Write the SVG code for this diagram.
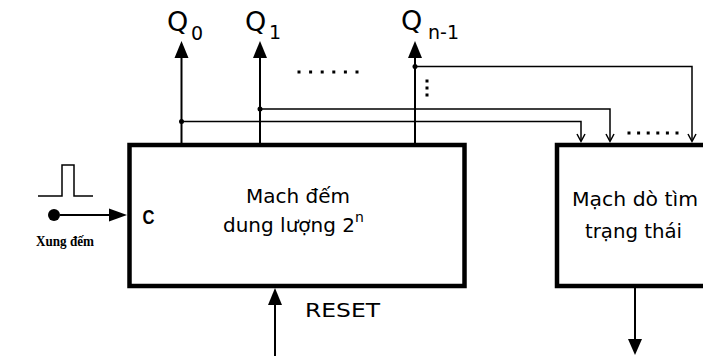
<svg xmlns="http://www.w3.org/2000/svg" width="703" height="356" viewBox="0 0 703 356">
<style>
.box{fill:#fff;stroke:#000;stroke-width:4.5}
.w{fill:none;stroke:#000;stroke-width:2}
.t{fill:none;stroke:#000;stroke-width:1.5}
.ah{fill:#000}
.body{font-family:"DejaVu Sans",sans-serif;font-size:20px;fill:#000}
.q{font-family:"DejaVu Sans",sans-serif;font-size:27px;fill:#000}
.sub{font-family:"DejaVu Sans",sans-serif;font-size:19px;fill:#000}
</style>
<rect width="703" height="356" fill="#fff"/>
<g id="counter">
<rect class="box" x="129.5" y="145" width="335" height="141"/>
<text class="body" x="298" y="203" text-anchor="middle">Mach đếm</text>
<text class="body" x="223" y="232">dung lượng 2<tspan font-size="14" dy="-10">n</tspan></text>
<text x="142.5" y="223.5" font-family="Liberation Sans, sans-serif" font-weight="bold" font-size="20" textLength="12" lengthAdjust="spacingAndGlyphs">C</text>
</g>
<g id="detector">
<rect class="box" x="557" y="145" width="160" height="141"/>
<text class="body" x="572" y="206" textLength="126" lengthAdjust="spacingAndGlyphs">Mạch dò tìm</text>
<text class="body" x="585" y="238" textLength="97" lengthAdjust="spacingAndGlyphs">trạng thái</text>
</g>
<g id="input">
<polyline class="t" points="38,196 62,196 62,165 74,165 74,196 93,196"/>
<circle cx="54" cy="215" r="6"/>
<text x="36" y="245.5" font-family="Liberation Serif, serif" font-weight="bold" font-size="15.5" textLength="58" lengthAdjust="spacingAndGlyphs">Xung đếm</text>
</g>
<g id="labels">
<text class="q" x="167" y="31">Q</text><text class="sub" x="191" y="40">0</text>
<text class="q" x="245" y="31">Q</text><text class="sub" x="269" y="38.5">1</text>
<text class="q" x="401" y="30">Q</text><text class="sub" x="428" y="39">n-1</text>
<text class="body" x="305" y="316.5" textLength="75" lengthAdjust="spacingAndGlyphs">RESET</text>
</g>
<g id="connectors">
<line class="w" x1="181.5" y1="56" x2="181.5" y2="145"/>
<line class="w" x1="260" y1="56" x2="260" y2="145"/>
<line class="w" x1="415" y1="56" x2="415" y2="145"/>
<polygon class="ah" points="181.5,41 174.5,58 188.5,58"/>
<polygon class="ah" points="260,41 253,58 267,58"/>
<polygon class="ah" points="415,41 408,58 422,58"/>
<polyline class="t" points="181.5,121.5 581,121.5 581,141"/>
<polyline class="t" points="260,109 610,109 610,141"/>
<polyline class="t" points="415,66.5 692,66.5 692,141"/>
<polyline class="t" points="577,134 581,141.5 585,134"/>
<polyline class="t" points="606,134 610,141.5 614,134"/>
<polyline class="t" points="688,134 692,141.5 696,134"/>
<circle cx="181.5" cy="121.5" r="2.5"/>
<circle cx="260" cy="109" r="2.5"/>
<circle cx="415" cy="66.5" r="2.5"/>
<line class="w" x1="60" y1="215" x2="110" y2="215"/>
<polygon class="ah" points="127,215 109,208.5 109,221.5"/>
<line class="w" x1="275" y1="356" x2="275" y2="303"/>
<polygon class="ah" points="275,288 268,305 282,305"/>
<line class="w" x1="635" y1="288" x2="635" y2="341"/>
<polygon class="ah" points="635,355 628,339 642,339"/>
</g>
<g id="ellipses">
<g fill="#000">
<rect x="297.5" y="70.5" width="3" height="3"/><rect x="309.1" y="70.5" width="3" height="3"/><rect x="320.7" y="70.5" width="3" height="3"/><rect x="332.3" y="70.5" width="3" height="3"/><rect x="343.9" y="70.5" width="3" height="3"/><rect x="355.5" y="70.5" width="3" height="3"/>
<rect x="425.5" y="79.5" width="3" height="3"/><rect x="425.5" y="86.5" width="3" height="3"/><rect x="425.5" y="93.5" width="3" height="3"/>
<rect x="627.5" y="131.5" width="3" height="3"/><rect x="637.1" y="131.5" width="3" height="3"/><rect x="646.7" y="131.5" width="3" height="3"/><rect x="656.3" y="131.5" width="3" height="3"/><rect x="665.9" y="131.5" width="3" height="3"/><rect x="675.5" y="131.5" width="3" height="3"/>
</g>
</g>
</svg>
